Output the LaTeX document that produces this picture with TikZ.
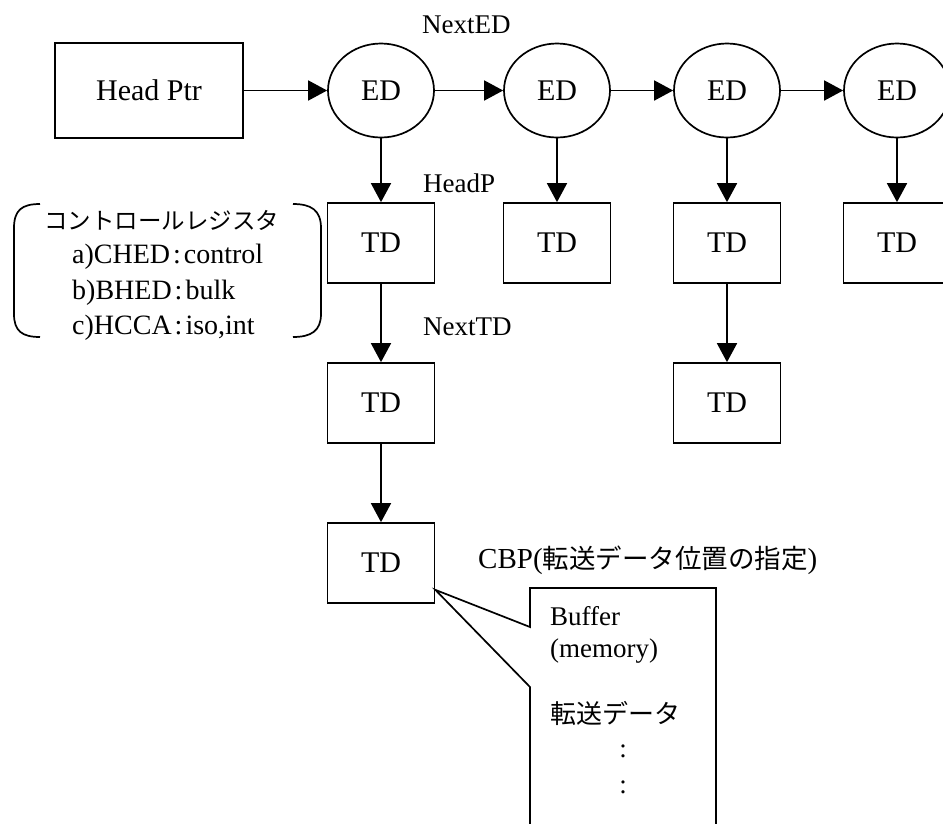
\documentclass[tikz,border=0pt]{standalone}
\usepackage{fontspec}
\setmainfont{Liberation Serif}
\newfontfamily\jfont{Noto Sans CJK JP}
\usetikzlibrary{arrows.meta,shapes.geometric}
\tikzset{
	edbox/.style={draw, ellipse, line width=1.7pt, minimum width=106pt, minimum height=94pt, inner sep=0pt, font=\fontsize{30}{34}\selectfont},
	tdbox/.style={draw, rectangle, line width=1.7pt, minimum width=107pt, minimum height=80pt, inner sep=0pt, font=\fontsize{30}{34}\selectfont},
	lbl/.style={inner sep=0pt, anchor=base west, font=\fontsize{27}{30}\selectfont},
	reg/.style={inner sep=0pt, anchor=base west, font=\fontsize{28}{32}\selectfont},
	arr/.style={-{Triangle[length=19pt, width=20pt]}, line width=1.7pt},
}
\begin{document}
\begin{tikzpicture}[x=1pt, y=-1pt]
	\useasboundingbox (0, 0) rectangle (943, 823);
	\node[tdbox, minimum width=188pt, minimum height=95pt] (head) at (149, 90.5) {Head Ptr};
	\node[edbox] (ed1) at (381, 90.5) {ED};
	\node[edbox] (ed2) at (557, 90.5) {ED};
	\node[edbox] (ed3) at (727, 90.5) {ED};
	\node[edbox] (ed4) at (897, 90.5) {ED};
	\node[tdbox] (td1) at (381, 243) {TD};
	\node[tdbox] (td2) at (557, 243) {TD};
	\node[tdbox] (td3) at (727, 243) {TD};
	\node[tdbox] (td4) at (897, 243) {TD};
	\node[tdbox] (td5) at (381, 403) {TD};
	\node[tdbox] (td6) at (727, 403) {TD};
	\node[tdbox] (td7) at (381, 563) {TD};
	\draw[arr] (head) -- (ed1);
	\draw[arr] (ed1) -- (ed2);
	\draw[arr] (ed2) -- (ed3);
	\draw[arr] (ed3) -- (ed4);
	\draw[arr] (ed1) -- (td1);
	\draw[arr] (ed2) -- (td2);
	\draw[arr] (ed3) -- (td3);
	\draw[arr] (ed4) -- (td4);
	\draw[arr] (td1) -- (td5);
	\draw[arr] (td3) -- (td6);
	\draw[arr] (td5) -- (td7);
	\node[lbl] (nexted) at (422, 33) {NextED};
	\node[lbl] (headp) at (423, 192) {HeadP};
	\node[lbl] (nexttd) at (423, 335) {NextTD};
	\node[lbl, font=\fontsize{29}{32}\selectfont] (cbp) at (478, 568) {CBP({\fontsize{26.5}{30}\jfont 転送データ位置の指定})};
	\draw[line width=1.7pt] (40, 204) .. controls (22, 204) and (14, 210) .. (14, 228) -- (14, 314) .. controls (14, 331) and (22, 337) .. (40, 337);
	\draw[line width=1.7pt] (293, 204) .. controls (311, 204) and (321, 210) .. (321, 228) -- (321, 314) .. controls (321, 331) and (311, 337) .. (293, 337);
	\node[reg, font=\fontsize{23.5}{28}\jfont] (regs) at (44, 229) {コントロールレジスタ};
	\node[reg] (ched) at (72, 263) {a)CHED\kern3pt:\kern3pt control};
	\node[reg] (bhed) at (72, 299) {b)BHED\kern3pt:\kern3pt bulk};
	\node[reg] (hcca) at (72, 334) {c)HCCA\kern3pt:\kern3pt iso,int};
	\coordinate (tip) at ([yshift=14pt]td7.south east);
	\draw[line width=1.7pt] (530, 830) -- (530, 687) -- (tip) -- (530, 627) -- (530, 588) -- (716, 588) -- (716, 830);
	\node[lbl] (buf) at (550, 625) {Buffer};
	\node[lbl] (mem) at (550, 657) {(memory)};
	\node[lbl, font=\fontsize{26}{30}\jfont] (data) at (550, 723) {転送データ};
	\node[inner sep=0pt, font=\fontsize{27}{30}\selectfont] (dots1) at (623, 751) {:};
	\node[inner sep=0pt, font=\fontsize{27}{30}\selectfont] (dots2) at (623, 787) {:};
\end{tikzpicture}
\end{document}
